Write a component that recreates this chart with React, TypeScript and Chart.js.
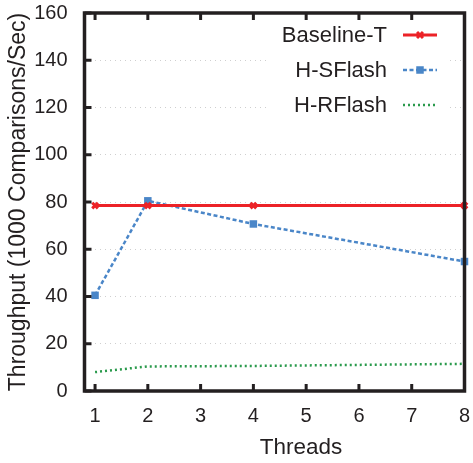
import React, { useEffect, useRef } from "react";
import { Chart, registerables } from "chart.js";

Chart.register(...registerables);

const xValues = [1, 2, 4, 8];
const baselineT = [78.5, 78.5, 78.5, 78.5];
const hSFlash = [40.5, 80.5, 70.7, 54.8];
const hRFlash = [8.0, 10.4, 10.6, 11.5];
const xTicks = [1, 2, 3, 4, 5, 6, 7, 8];
const yTicks = [0, 20, 40, 60, 80, 100, 120, 140, 160];
const seriesNames = ["Baseline-T", "H-SFlash", "H-RFlash"];
const xTitle = "Threads";
const yTitle = "Throughput (1000 Comparisons/Sec)";

const RED = "#ec2227";
const BLUE = "#4a86c8";
const GREEN = "#2a9a4c";
const INK = "#231f20";
const FONT = "'Liberation Sans', Arial, Helvetica, sans-serif";

const toPoints = (ys: number[]) => xValues.map((x, i) => ({ x, y: ys[i] }));

const framePlugin = {
  id: "frame",
  afterDatasetsDraw(chart: any) {
    const { ctx, chartArea } = chart;
    const { top, right } = chartArea;
    ctx.save();
    ctx.fillStyle = "#ffffff";
    ctx.fillRect(right - 195, top + 5, 180, 105);
    const rows = [top + 22, top + 57, top + 92];
    ctx.font = `22px ${FONT}`;
    ctx.fillStyle = INK;
    ctx.textAlign = "right";
    ctx.textBaseline = "middle";
    rows.forEach((y, i) => {
      ctx.fillText(seriesNames[i], right - 77.5, y + 1);
    });
    const x0 = right - 61.5;
    const x1 = right - 27.5;
    const xm = (x0 + x1) / 2;
    ctx.strokeStyle = RED;
    ctx.lineWidth = 3;
    ctx.setLineDash([]);
    ctx.beginPath();
    ctx.moveTo(x0, rows[0]);
    ctx.lineTo(x1, rows[0]);
    ctx.stroke();
    ctx.beginPath();
    ctx.moveTo(xm - 3, rows[0] - 3);
    ctx.lineTo(xm + 3, rows[0] + 3);
    ctx.moveTo(xm - 3, rows[0] + 3);
    ctx.lineTo(xm + 3, rows[0] - 3);
    ctx.stroke();
    ctx.strokeStyle = BLUE;
    ctx.lineWidth = 2.5;
    ctx.setLineDash([4, 2.5]);
    ctx.beginPath();
    ctx.moveTo(x0, rows[1]);
    ctx.lineTo(x1, rows[1]);
    ctx.stroke();
    ctx.fillStyle = BLUE;
    ctx.fillRect(xm - 3.75, rows[1] - 3.75, 7.5, 7.5);
    ctx.strokeStyle = GREEN;
    ctx.lineWidth = 2.5;
    ctx.setLineDash([2, 3]);
    ctx.beginPath();
    ctx.moveTo(x0, rows[2]);
    ctx.lineTo(x1, rows[2]);
    ctx.stroke();
    ctx.restore();
  },
  afterDraw(chart: any) {
    const { ctx, chartArea, scales } = chart;
    const { left, right, top, bottom } = chartArea;
    ctx.save();
    ctx.setLineDash([]);
    ctx.strokeStyle = INK;
    ctx.lineWidth = 3;
    xTicks.forEach((v) => {
      const px = scales.x.getPixelForValue(v);
      ctx.beginPath();
      ctx.moveTo(px, bottom);
      ctx.lineTo(px, bottom - 7);
      ctx.moveTo(px, top);
      ctx.lineTo(px, top + 7);
      ctx.stroke();
    });
    yTicks.forEach((v) => {
      const py = scales.y.getPixelForValue(v);
      ctx.beginPath();
      ctx.moveTo(left, py);
      ctx.lineTo(left + 7, py);
      ctx.stroke();
    });
    ctx.lineWidth = 3.5;
    ctx.strokeRect(left, top, right - left, bottom - top);
    ctx.font = `22.5px ${FONT}`;
    ctx.fillStyle = INK;
    ctx.textAlign = "center";
    ctx.textBaseline = "middle";
    ctx.fillText(xTitle, left + (right - left) * 0.57, 448);
    ctx.restore();
  },
};

export default function App() {
  const ref = useRef<HTMLCanvasElement | null>(null);
  useEffect(() => {
    document.body.style.margin = "0";
    if (!ref.current) return;
    const chart = new Chart(ref.current, {
      type: "line",
      data: {
        datasets: [
          {
            label: seriesNames[0],
            data: toPoints(baselineT),
            borderColor: RED,
            backgroundColor: RED,
            borderWidth: 3,
            pointStyle: "crossRot",
            pointRadius: 4,
            pointBorderWidth: 3,
            pointBorderColor: RED,
            clip: false,
          },
          {
            label: seriesNames[1],
            data: toPoints(hSFlash),
            borderColor: BLUE,
            backgroundColor: BLUE,
            borderWidth: 2.5,
            borderDash: [4, 2.5],
            pointStyle: "rect",
            pointRadius: 5.3,
            pointBorderWidth: 0,
            clip: false,
          },
          {
            label: seriesNames[2],
            data: toPoints(hRFlash),
            borderColor: GREEN,
            backgroundColor: GREEN,
            borderWidth: 2.5,
            borderDash: [2, 3],
            pointRadius: 0,
            clip: false,
          },
        ],
      },
      options: {
        responsive: false,
        animation: false,
        layout: { padding: { top: 13, right: 8.5, left: 0, bottom: 0 } },
        plugins: {
          legend: { display: false },
          tooltip: { enabled: false },
        },
        scales: {
          x: {
            type: "linear",
            min: 0.8,
            max: 8,
            afterBuildTicks: (scale: any) => {
              scale.ticks = xTicks.map((v) => ({ value: v }));
            },
            afterFit: (scale: any) => {
              scale.height = 72;
              scale.paddingLeft = 0;
              scale.paddingRight = 0;
            },
            grid: { display: false, drawTicks: false },
            border: { display: false },
            ticks: {
              padding: 13,
              color: INK,
              font: { family: FONT, size: 20 },
              maxRotation: 0,
              autoSkip: false,
            },
            title: { display: false },
          },
          y: {
            type: "linear",
            min: 0,
            max: 160,
            afterBuildTicks: (scale: any) => {
              scale.ticks = yTicks.map((v) => ({ value: v }));
            },
            afterFit: (scale: any) => {
              scale.width = 84.5;
              scale.paddingTop = 0;
              scale.paddingBottom = 0;
            },
            grid: {
              display: true,
              drawTicks: false,
              color: "#cfcfcf",
              lineWidth: 1,
            },
            border: { display: false, dash: [1, 4] },
            ticks: {
              padding: 17,
              color: INK,
              font: { family: FONT, size: 20 },
              autoSkip: false,
            },
            title: {
              display: true,
              text: yTitle,
              color: INK,
              font: { family: FONT, size: 23 },
              padding: { top: 4.5, bottom: 0 },
            },
          },
        },
      },
      plugins: [framePlugin],
    });
    return () => chart.destroy();
  }, []);
  return (
    <div style={{ width: 473, height: 463 }}>
      <canvas ref={ref} width={473} height={463} />
    </div>
  );
}
